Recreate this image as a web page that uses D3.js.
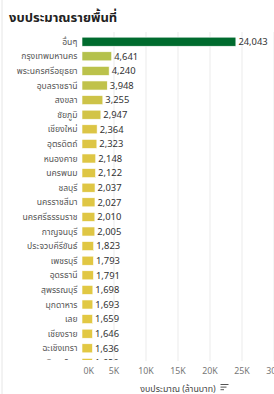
<!DOCTYPE html>
<html>
<head>
<meta charset="utf-8">
<script src="https://cdn.jsdelivr.net/npm/d3@7"></script>
<style>
  body { margin: 0; background: #fff; }
  svg { display: block; font-family: "Noto Sans", "Noto Sans Thai", "DejaVu Sans", sans-serif; }
</style>
</head>
<body>
<script>
// data (ล้านบาท)
var provinces = ["อื่นๆ", "กรุงเทพมหานคร", "พระนครศรีอยุธยา", "อุบลราชธานี", "สงขลา", "ชัยภูมิ",
  "เชียงใหม่", "อุตรดิตถ์", "หนองคาย", "นครพนม", "ชลบุรี", "นครราชสีมา", "นครศรีธรรมราช",
  "กาญจนบุรี", "ประจวบคีรีขันธ์", "เพชรบุรี", "อุดรธานี", "สุพรรณบุรี", "มุกดาหาร", "เลย",
  "เชียงราย", "ฉะเชิงเทรา", "พิษณุโลก"];
var budget = [24043, 4641, 4240, 3948, 3255, 2947, 2364, 2323, 2148, 2122, 2037, 2027, 2010,
  2005, 1823, 1793, 1791, 1698, 1693, 1659, 1646, 1636, 1620];
var xTicks = [0, 5000, 10000, 15000, 20000, 25000, 30000];
var xTickLabels = ["0K", "5K", "10K", "15K", "20K", "25K", "30K"];

var W = 274, H = 394;
var rowStep = 14.6, paneTop = 34.4;

var svg = d3.select("body").append("svg").attr("width", W).attr("height", H);

// faint frame line at left
svg.append("line").attr("x1", 2).attr("x2", 2).attr("y1", 0).attr("y2", H)
  .attr("stroke", "#e6e6e6").attr("stroke-width", 1);

// title
svg.append("text").attr("x", 9).attr("y", 22)
  .attr("font-size", 13).attr("font-weight", "bold").attr("fill", "#222")
  .text("งบประมาณรายพื้นที่");

var x = d3.scaleLinear().domain([0, 30000]).range([82, 274]);
var y = d3.scaleBand().domain(provinces)
  .range([paneTop, paneTop + provinces.length * rowStep])
  .paddingInner(0.38).paddingOuter(0.19);

var color = d3.scaleLinear().domain([1600, 2400, 4641])
  .range(["#e2c843", "#dcc545", "#b4c14c"]);

svg.append("defs").append("clipPath").attr("id", "pane")
  .append("rect").attr("x", 0).attr("y", 30).attr("width", W).attr("height", 330);

// gridlines
svg.append("g").selectAll("line").data(xTicks.slice(1)).join("line")
  .attr("x1", function(d){ return x(d); }).attr("x2", function(d){ return x(d); })
  .attr("y1", 32).attr("y2", 361)
  .attr("stroke", "#ebebeb").attr("stroke-width", 1);

var pane = svg.append("g").attr("clip-path", "url(#pane)");

// bars
pane.selectAll("rect.bar").data(provinces).join("rect")
  .attr("class", "bar")
  .attr("x", x(0))
  .attr("y", function(d){ return y(d); })
  .attr("width", function(d, i){ return x(budget[i]) - x(0); })
  .attr("height", y.bandwidth())
  .attr("fill", function(d, i){ return i == 0 ? "#006b2e" : color(budget[i]); })
  .attr("stroke", "#fff").attr("stroke-width", 0.6);

// row labels
pane.selectAll("text.name").data(provinces).join("text")
  .attr("class", "name")
  .attr("x", 77.5)
  .attr("y", function(d){ return y(d) + y.bandwidth() / 2; })
  .attr("dy", "0.35em").attr("text-anchor", "end")
  .attr("font-size", 8.6).attr("fill", "#555")
  .text(function(d){ return d; });

// value labels
pane.selectAll("text.val").data(provinces).join("text")
  .attr("class", "val")
  .attr("x", function(d, i){ return x(budget[i]) + 2.5; })
  .attr("y", function(d){ return y(d) + y.bandwidth() / 2; })
  .attr("dy", "0.35em")
  .attr("font-size", 9.4).attr("fill", "#333")
  .text(function(d, i){ return d3.format(",")(budget[i]); });

// axis tick labels
svg.append("g").selectAll("text").data(xTicks).join("text")
  .attr("x", function(d, i){ return i == 0 ? x(d) + 1.5 : x(d); })
  .attr("y", 374)
  .attr("text-anchor", function(d, i){ return i == 0 ? "start" : "middle"; })
  .attr("font-size", 8.8).attr("fill", "#777")
  .text(function(d, i){ return xTickLabels[i]; });

// axis title + sort icon
svg.append("text").attr("x", 178).attr("y", 392)
  .attr("text-anchor", "middle").attr("font-size", 8.8).attr("fill", "#444")
  .text("งบประมาณ (ล้านบาท)");
var icon = svg.append("g").attr("stroke", "#555").attr("stroke-width", 1);
[8, 6, 3.5].forEach(function(w, i){
  icon.append("line").attr("x1", 220.5).attr("x2", 220.5 + w)
    .attr("y1", 384.5 + i * 2.6).attr("y2", 384.5 + i * 2.6);
});
</script>
</body>
</html>
